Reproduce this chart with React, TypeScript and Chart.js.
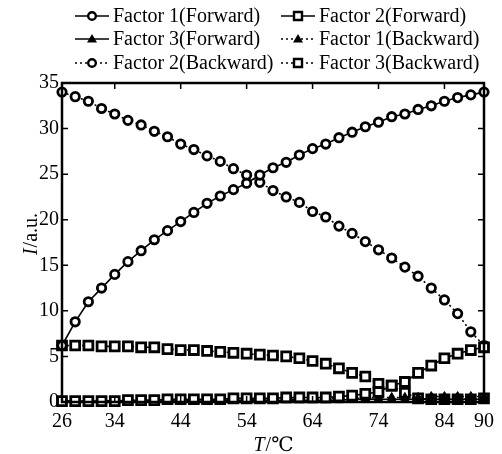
import React, { useEffect, useRef } from 'react';
import { Chart, registerables } from 'chart.js';

Chart.register(...registerables);

const TEMPS = [26, 28, 30, 32, 34, 36, 38, 40, 42, 44, 46, 48, 50, 52, 54, 56, 58, 60, 62, 64, 66, 68, 70, 72, 74, 76, 78, 80, 82, 84, 86, 88, 90];
const X_TICKS = [26, 34, 44, 54, 64, 74, 84, 90];
const Y_TICKS = [0, 5, 10, 15, 20, 25, 30, 35];

const F1_FORWARD = [6.2, 8.8, 11.0, 12.5, 14.0, 15.4, 16.6, 17.8, 18.8, 19.8, 20.8, 21.8, 22.6, 23.3, 24.0, 24.9, 25.7, 26.3, 27.1, 27.8, 28.3, 29.0, 29.6, 30.2, 30.7, 31.3, 31.6, 32.1, 32.5, 33.0, 33.4, 33.7, 34.0];
const F2_FORWARD = [0.1, 0.1, 0.1, 0.1, 0.1, 0.2, 0.2, 0.2, 0.3, 0.3, 0.3, 0.3, 0.3, 0.4, 0.4, 0.4, 0.4, 0.5, 0.5, 0.5, 0.5, 0.6, 0.7, 0.9, 1.1, 1.8, 2.2, 3.2, 4.0, 4.8, 5.3, 5.7, 6.0];
const F3_FORWARD = [0.0, 0.0, 0.0, 0.0, 0.1, 0.1, 0.1, 0.1, 0.1, 0.1, 0.1, 0.1, 0.2, 0.2, 0.2, 0.2, 0.2, 0.2, 0.2, 0.2, 0.2, 0.2, 0.3, 0.3, 0.3, 0.3, 0.3, 0.3, 0.3, 0.3, 0.3, 0.3, 0.3];
const F1_BACKWARD = [0.1, 0.1, 0.1, 0.1, 0.1, 0.1, 0.2, 0.2, 0.2, 0.2, 0.2, 0.2, 0.2, 0.3, 0.3, 0.3, 0.3, 0.3, 0.3, 0.3, 0.4, 0.4, 0.4, 0.4, 0.5, 0.5, 0.5, 0.5, 0.6, 0.6, 0.6, 0.6, 0.6];
const F2_BACKWARD = [34.0, 33.5, 33.0, 32.2, 31.6, 30.9, 30.4, 29.7, 29.1, 28.3, 27.7, 27.0, 26.4, 25.6, 24.9, 24.1, 23.2, 22.5, 21.9, 20.9, 20.3, 19.3, 18.5, 17.6, 16.7, 15.8, 14.8, 13.8, 12.5, 11.2, 9.7, 7.7, 6.2];
const F3_BACKWARD = [6.2, 6.2, 6.2, 6.1, 6.1, 6.1, 6.0, 6.0, 5.8, 5.7, 5.7, 5.6, 5.5, 5.4, 5.3, 5.2, 5.1, 5.0, 4.8, 4.5, 4.2, 3.7, 3.2, 2.8, 2.0, 1.8, 1.0, 0.4, 0.3, 0.3, 0.3, 0.3, 0.4];

const SERIES_LABELS = ['Factor 1(Forward)', 'Factor 2(Forward)', 'Factor 3(Forward)', 'Factor 1(Backward)', 'Factor 2(Backward)', 'Factor 3(Backward)'];

const SERIF = '"Liberation Serif", "DejaVu Serif", "Noto Sans CJK SC", serif';

function points(vals: number[]) {
  return TEMPS.map((t, i) => ({ x: t, y: vals[i] }));
}

function drawMarker(ctx: CanvasRenderingContext2D, style: string, x: number, y: number) {
  ctx.save();
  ctx.lineWidth = 2.4;
  ctx.strokeStyle = '#000';
  ctx.fillStyle = '#fff';
  ctx.setLineDash([]);
  if (style === 'circle') {
    ctx.beginPath();
    ctx.arc(x, y, 3.8, 0, Math.PI * 2);
    ctx.fill();
    ctx.stroke();
  } else if (style === 'rect') {
    ctx.beginPath();
    ctx.rect(x - 4, y - 4, 8, 8);
    ctx.fill();
    ctx.stroke();
  } else {
    ctx.fillStyle = '#000';
    ctx.beginPath();
    ctx.moveTo(x, y - 5);
    ctx.lineTo(x + 5, y + 3.5);
    ctx.lineTo(x - 5, y + 3.5);
    ctx.closePath();
    ctx.fill();
  }
  ctx.restore();
}

const framePlugin = {
  id: 'framePlugin',
  afterDraw(chart: any) {
    const ctx: CanvasRenderingContext2D = chart.ctx;
    const { left, right, top, bottom } = chart.chartArea;
    const xs = chart.scales.x;
    const ys = chart.scales.y;
    ctx.save();
    ctx.strokeStyle = '#000';
    ctx.setLineDash([]);
    ctx.lineWidth = 2.5;
    ctx.strokeRect(left, top, right - left, bottom - top);
    ctx.lineWidth = 1.5;
    ctx.beginPath();
    X_TICKS.forEach((v) => {
      const px = xs.getPixelForValue(v);
      ctx.moveTo(px, bottom);
      ctx.lineTo(px, bottom - 6);
      ctx.moveTo(px, top);
      ctx.lineTo(px, top + 6);
    });
    Y_TICKS.forEach((v) => {
      const py = ys.getPixelForValue(v);
      ctx.moveTo(left, py);
      ctx.lineTo(left + 6, py);
      ctx.moveTo(right, py);
      ctx.lineTo(right - 6, py);
    });
    ctx.stroke();

    // axis titles
    ctx.fillStyle = '#000';
    ctx.textBaseline = 'alphabetic';
    const italic = 'italic 20px ' + SERIF;
    const normal = '20px ' + SERIF;
    // x title
    ctx.font = italic;
    const wT = ctx.measureText('T').width;
    ctx.font = normal;
    const wRest = ctx.measureText('/℃').width;
    const cx = (left + right) / 2;
    const sx = cx - (wT + wRest) / 2;
    ctx.font = italic;
    ctx.fillText('T', sx, 451);
    ctx.font = normal;
    ctx.fillText('/℃', sx + wT + 1, 451);
    // y title
    ctx.save();
    ctx.translate(37, (top + bottom) / 2 - 8);
    ctx.rotate(-Math.PI / 2);
    ctx.font = italic;
    const wI = ctx.measureText('I').width;
    ctx.font = normal;
    const wAu = ctx.measureText('/a.u.').width;
    const sy = -(wI + wAu) / 2;
    ctx.font = italic;
    ctx.fillText('I', sy, 0);
    ctx.font = normal;
    ctx.fillText('/a.u.', sy + wI + 1, 0);
    ctx.restore();

    // legend
    const colX = [75, 281];
    const rowY = [16, 39, 63];
    chart.data.datasets.forEach((ds: any, i: number) => {
      const col = i % 2;
      const row = Math.floor(i / 2);
      const x0 = colX[col];
      const y0 = rowY[row];
      ctx.save();
      ctx.strokeStyle = '#000';
      ctx.lineWidth = 1.6;
      ctx.setLineDash(ds.borderDash || []);
      ctx.beginPath();
      ctx.moveTo(x0, y0);
      ctx.lineTo(x0 + 34, y0);
      ctx.stroke();
      ctx.restore();
      drawMarker(ctx, ds.pointStyle, x0 + 17, y0);
      ctx.font = normal;
      ctx.fillStyle = '#000';
      ctx.textBaseline = 'middle';
      ctx.fillText(ds.label, x0 + 38, y0 + 1);
    });
    ctx.restore();
  },
};

function makeDataset(label: string, vals: number[], style: string, dashed: boolean) {
  const isTri = style === 'triangle';
  return {
    label,
    data: points(vals),
    borderColor: '#000',
    borderWidth: 1.6,
    borderDash: dashed ? [2, 3] : [],
    pointStyle: style,
    pointRadius: style === 'rect' ? 6.3 : isTri ? 5 : 4.2,
    pointBorderWidth: isTri ? 1 : 2.8,
    pointBackgroundColor: isTri ? '#000' : '#fff',
    pointBorderColor: '#000',
    fill: false,
    tension: 0,
    clip: false as any,
  };
}

export default function App() {
  const canvasRef = useRef<HTMLCanvasElement | null>(null);
  useEffect(() => {
    if (!canvasRef.current) return;
    const chart = new Chart(canvasRef.current, {
      type: 'line',
      data: {
        datasets: [
          makeDataset(SERIES_LABELS[0], F1_FORWARD, 'circle', false),
          makeDataset(SERIES_LABELS[1], F2_FORWARD, 'rect', false),
          makeDataset(SERIES_LABELS[2], F3_FORWARD, 'triangle', false),
          makeDataset(SERIES_LABELS[3], F1_BACKWARD, 'triangle', true),
          makeDataset(SERIES_LABELS[4], F2_BACKWARD, 'circle', true),
          makeDataset(SERIES_LABELS[5], F3_BACKWARD, 'rect', true),
        ] as any,
      },
      options: {
        responsive: false,
        animation: false,
        layout: { padding: { top: 83, right: 11, left: 0, bottom: 0 } },
        plugins: { legend: { display: false }, tooltip: { enabled: false }, title: { display: false } },
        scales: {
          x: {
            type: 'linear',
            min: 26,
            max: 90,
            afterBuildTicks: (scale: any) => {
              scale.ticks = X_TICKS.map((v) => ({ value: v }));
            },
            afterFit: (scale: any) => {
              scale.height = 52;
            },
            grid: { display: false, drawTicks: false },
            border: { display: false },
            ticks: {
              autoSkip: false,
              maxRotation: 0,
              padding: 8,
              color: '#000',
              font: { family: SERIF, size: 20 },
              callback: (v: any) => String(v),
            },
          },
          y: {
            type: 'linear',
            min: 0,
            max: 35,
            afterBuildTicks: (scale: any) => {
              scale.ticks = Y_TICKS.map((v) => ({ value: v }));
            },
            afterFit: (scale: any) => {
              scale.width = 62;
            },
            grid: { display: false, drawTicks: false },
            border: { display: false },
            ticks: {
              padding: 3,
              color: '#000',
              font: { family: SERIF, size: 20 },
              callback: (v: any) => String(v),
            },
          },
        },
      },
      plugins: [framePlugin],
    });
    return () => chart.destroy();
  }, []);
  return (
    <div style={{ position: 'absolute', left: 0, top: 0, width: 502, height: 454, background: '#fff' }}>
      <canvas ref={canvasRef} width={502} height={454} style={{ display: 'block', width: 502, height: 454 }} />
    </div>
  );
}
